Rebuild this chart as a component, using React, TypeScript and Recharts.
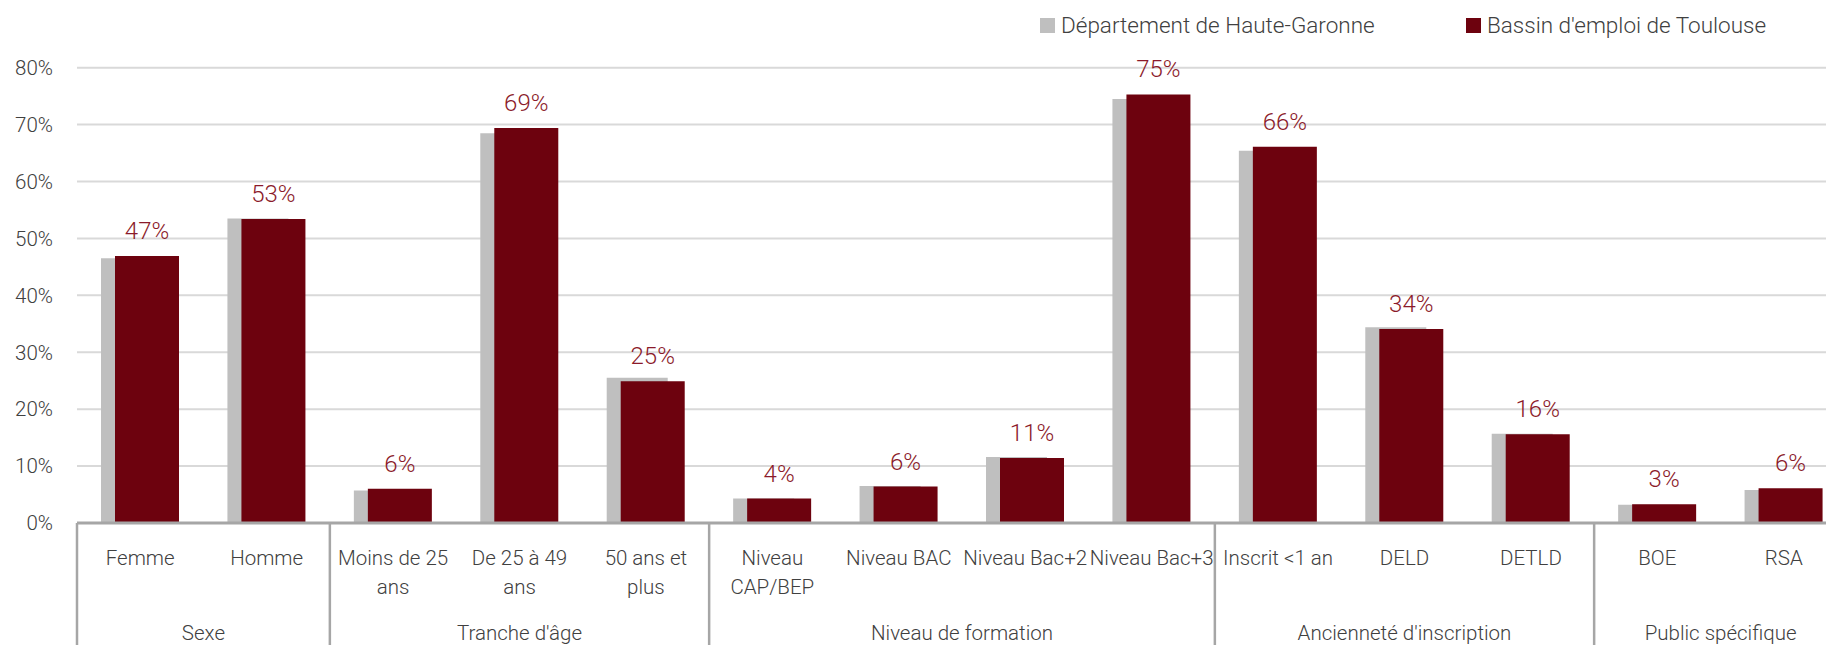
import { BarChart, Bar, XAxis, YAxis, CartesianGrid, Legend, LabelList } from "recharts";

const categories = [
  "Femme",
  "Homme",
  "Moins de 25\nans",
  "De 25 à 49\nans",
  "50 ans et\nplus",
  "Niveau\nCAP/BEP",
  "Niveau BAC",
  "Niveau Bac+2",
  "Niveau Bac+3",
  "Inscrit <1 an",
  "DELD",
  "DETLD",
  "BOE",
  "RSA",
];
const groupNames = ["Sexe", "Tranche d'âge", "Niveau de formation", "Ancienneté d'inscription", "Public spécifique"];
const groupSizes = [2, 3, 4, 3, 2];
const seriesNames = ["Département de Haute-Garonne", "Bassin d'emploi de Toulouse"];
const departement = [46.5, 53.5, 5.7, 68.5, 25.5, 4.3, 6.5, 11.6, 74.5, 65.4, 34.4, 15.7, 3.2, 5.8];
const bassin = [46.9, 53.4, 6.0, 69.4, 24.9, 4.3, 6.4, 11.4, 75.3, 66.1, 34.1, 15.6, 3.3, 6.1];
const yTicks = [0, 10, 20, 30, 40, 50, 60, 70, 80];

const data = categories.map((name, i) => ({
  name,
  [seriesNames[0]]: departement[i],
  [seriesNames[1]]: bassin[i],
}));

const groupStarts = groupSizes.map((_, g) => groupSizes.slice(0, g).reduce((a, b) => a + b, 0));

const FONT = "Roboto, 'Open Sans', sans-serif";
const TEXT = "#404040";
const LINE = "#a6a6a6";

const CategoryTick = (props: any) => {
  const { x, y, payload } = props;
  const i = props.index ?? payload.index;
  const band = (payload.offset || 63.2) * 2;
  const lines = categories[i].split("\n");
  const g = groupStarts.indexOf(i);
  return (
    <g>
      <text x={x} y={y + 42} textAnchor="middle" fill={TEXT} fontSize={20.5} fontFamily={FONT} fontWeight={300}>
        {lines.map((l, k) => (
          <tspan key={k} x={x} dy={k === 0 ? 0 : 28.5}>
            {l}
          </tspan>
        ))}
      </text>
      {g >= 0 && (
        <>
          <line x1={x - band / 2} x2={x - band / 2} y1={y} y2={y + 200} stroke={LINE} strokeWidth={2.5} />
          <text
            x={x - band / 2 + (groupSizes[g] * band) / 2}
            y={y + 117}
            textAnchor="middle"
            fill={TEXT}
            fontSize={20.5}
            fontFamily={FONT}
            fontWeight={300}
          >
            {groupNames[g]}
          </text>
        </>
      )}
      {i === categories.length - 1 && (
        <line x1={x + band / 2} x2={x + band / 2} y1={y} y2={y + 200} stroke={LINE} strokeWidth={2.5} />
      )}
    </g>
  );
};

const LegendContent = ({ payload }: any) => {
  const lefts = [0, 426];
  const items = [...(payload || [])].sort(
    (a: any, b: any) => seriesNames.indexOf(a.value) - seriesNames.indexOf(b.value)
  );
  return (
    <div style={{ position: "relative", height: 20, fontFamily: FONT, fontWeight: 300, fontSize: 22.5, color: TEXT }}>
      {items.map((entry: any, idx: number) => (
        <div
          key={idx}
          style={{ position: "absolute", left: lefts[idx], top: 0, display: "flex", alignItems: "center", whiteSpace: "nowrap" }}
        >
          <span style={{ display: "inline-block", width: 15, height: 15, background: entry.color, marginRight: 6 }} />
          <span style={{ lineHeight: "20px" }}>{entry.value}</span>
        </div>
      ))}
    </div>
  );
};

export default function App() {
  return (
    <div style={{ position: "fixed", left: 0, top: 0, width: 1826, height: 645, overflow: "hidden", background: "#fff" }}>
      <BarChart
        width={1847}
        height={690}
        data={data}
        margin={{ top: 67.7, right: 0, bottom: 0, left: 0 }}
        barGap={-47}
      >
        <CartesianGrid vertical={false} stroke="#d9d9d9" strokeWidth={2} />
        <YAxis
          width={77}
          domain={[0, 80]}
          ticks={yTicks}
          tickFormatter={(v: number) => `${v}%`}
          axisLine={false}
          tickLine={false}
          tickSize={0}
          tickMargin={24}
          tick={{ fill: TEXT, fontSize: 20.5, fontFamily: FONT, fontWeight: 300 }}
        />
        <XAxis
          dataKey="name"
          height={167}
          interval={0}
          tickLine={false}
          tickSize={0}
          tickMargin={0}
          axisLine={{ stroke: LINE, strokeWidth: 3 }}
          tick={(p: any) => <CategoryTick {...p} />}
        />
        <Legend
          layout="horizontal"
          verticalAlign="middle"
          align="center"
          content={<LegendContent />}
          wrapperStyle={{ position: "absolute", top: 15, left: 1040, width: 700, height: 20 }}
        />
        <Bar dataKey={seriesNames[0]} fill="#bfbfbf" barSize={61} isAnimationActive={false} />
        <Bar dataKey={seriesNames[1]} fill="#6d020e" barSize={64} isAnimationActive={false}>
          <LabelList
            dataKey={seriesNames[1]}
            position="top"
            offset={17}
            formatter={(v: any) => `${Math.round(Number(v))}%`}
            fill="#8b1a2a"
            fontSize={24}
            fontFamily={FONT}
            fontWeight={300}
          />
        </Bar>
      </BarChart>
    </div>
  );
}
